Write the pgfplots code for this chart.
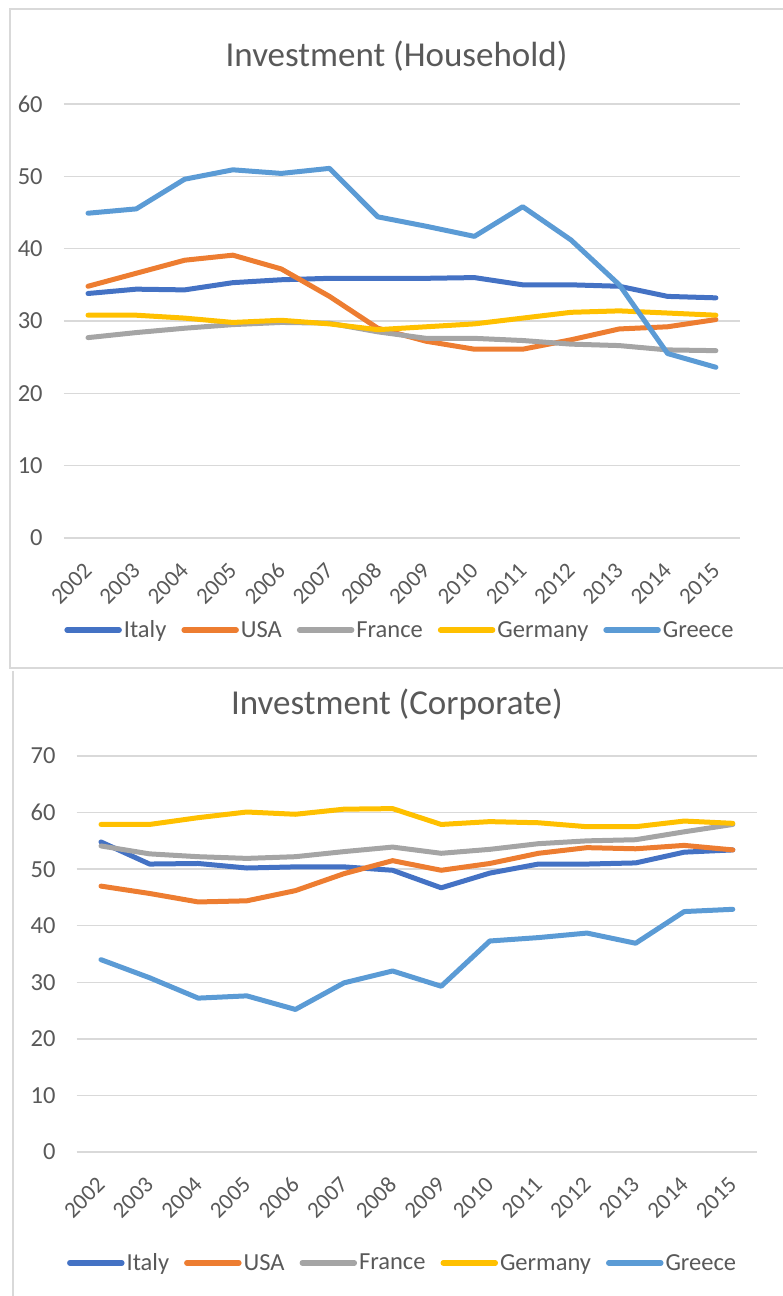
\documentclass[border=0pt]{standalone}
\usepackage{fontspec}
\setmainfont{Carlito}
\usepackage{pgfplots}
\usepackage{pgfplotstable}
\pgfplotsset{compat=1.18}
\definecolor{cItaly}{HTML}{4472C4}
\definecolor{cUSA}{HTML}{ED7D31}
\definecolor{cFrance}{HTML}{A5A5A5}
\definecolor{cGermany}{HTML}{FFC000}
\definecolor{cGreece}{HTML}{5B9BD5}
\definecolor{txt}{HTML}{595959}
\definecolor{grd}{HTML}{D9D9D9}

\pgfplotstableread{
x Italy USA France Germany Greece
0  33.8 34.8 27.7 30.8 44.9
1  34.4 36.6 28.4 30.8 45.5
2  34.3 38.4 29.0 30.4 49.6
3  35.3 39.1 29.5 29.8 50.9
4  35.7 37.2 29.8 30.1 50.4
5  35.9 33.4 29.7 29.6 51.1
6  35.9 29.0 28.5 28.8 44.4
7  35.9 27.2 27.6 29.2 43.1
8  36.0 26.1 27.6 29.6 41.7
9  35.0 26.1 27.3 30.4 45.8
10 35.0 27.4 26.8 31.2 41.2
11 34.8 28.9 26.6 31.4 35.0
12 33.4 29.2 26.0 31.1 25.5
13 33.2 30.2 25.9 30.8 23.6
}\household

\pgfplotstableread{
x Italy USA France Germany Greece
0  54.8 47.0 54.1 57.9 34.0
1  50.9 45.7 52.7 57.9 30.8
2  51.0 44.2 52.2 59.1 27.2
3  50.2 44.4 51.9 60.1 27.6
4  50.4 46.2 52.2 59.7 25.2
5  50.4 49.2 53.1 60.6 29.9
6  49.8 51.5 53.9 60.7 32.0
7  46.7 49.8 52.8 57.9 29.3
8  49.3 51.0 53.5 58.4 37.3
9  50.9 52.8 54.5 58.2 37.9
10 50.9 53.8 55.0 57.5 38.7
11 51.1 53.6 55.2 57.5 36.9
12 53.0 54.2 56.6 58.5 42.5
13 53.4 53.4 57.9 58.1 42.9
}\corporate

\pgfplotsset{excel/.style={
  scale only axis,
  xmin=-0.5, xmax=13.5, ymin=0,
  xtick={0,1,2,3,4,5,6,7,8,9,10,11,12,13},
  xticklabels={2002,2003,2004,2005,2006,2007,2008,2009,2010,2011,2012,2013,2014,2015},
  axis line style={draw=none},
  major tick length=0pt,
  ymajorgrids, grid style={grd, line width=1.5pt},
  tick label style={text=txt},
  yticklabel style={font=\fontsize{24.5}{29}\selectfont, anchor=east, inner sep=0pt, xshift=-21pt},
  xticklabel style={font=\fontsize{23}{27}\selectfont, yshift=-29pt, rotate=45, anchor=east, inner sep=0pt},
  /pgf/number format/assume math mode=true,
  every axis plot/.append style={line width=5pt, line join=round, line cap=round, mark=none},
  legend columns=-1,
  legend style={draw=none, fill=none, font=\fontsize{24.5}{29}\selectfont, text=txt, anchor=center,
    nodes={inner sep=2pt},
    /tikz/every even column/.append style={column sep=13pt}},
  legend image code/.code={\draw[#1, line width=5.5pt, line cap=round] (2.5pt,0pt) -- (54.5pt,0pt);},
  title style={anchor=base, font=\fontsize{35}{42}\selectfont, text=txt},
  clip=false,
}}

\begin{document}
\begin{tikzpicture}
\useasboundingbox (0,0) rectangle (783pt,1296pt);
% frames
\draw[grd, line width=2pt] (784pt,1287pt) -- (10pt,1287pt) -- (10pt,628pt) -- (784pt,628pt);
\draw[grd, line width=2pt] (13pt,625pt) -- (13pt,-1pt);

\begin{axis}[excel,
  at={(63.85pt,758pt)}, anchor=south west,
  width=676.2pt, height=434pt,
  ymax=60, ytick={0,10,20,30,40,50,60},
  title={Investment (Household)},
  title style={at={(axis description cs:0.492,1.073)}},
  legend style={at={(axis description cs:0.497,-0.212)}},
]
\addplot[cItaly] table[x=x, y=Italy] {\household};
\addplot[cUSA] table[x=x, y=USA] {\household};
\addplot[cFrance] table[x=x, y=France] {\household};
\addplot[cGermany] table[x=x, y=Germany] {\household};
\addplot[cGreece] table[x=x, y=Greece] {\household};
\legend{Italy,USA,France,Germany,Greece}
\end{axis}

\begin{axis}[excel,
  at={(76.7pt,144pt)}, anchor=south west,
  width=680.4pt, height=396pt,
  ymax=70, ytick={0,10,20,30,40,50,60,70},
  title={Investment (Corporate)},
  title style={at={(axis description cs:0.4706,1.090)}},
  legend style={at={(axis description cs:0.479,-0.280)}},
]
\addplot[cItaly] table[x=x, y=Italy] {\corporate};
\addplot[cUSA] table[x=x, y=USA] {\corporate};
\addplot[cFrance] table[x=x, y=France] {\corporate};
\addplot[cGermany] table[x=x, y=Germany] {\corporate};
\addplot[cGreece] table[x=x, y=Greece] {\corporate};
\legend{Italy,USA,France,Germany,Greece}
\end{axis}
\end{tikzpicture}
\end{document}
